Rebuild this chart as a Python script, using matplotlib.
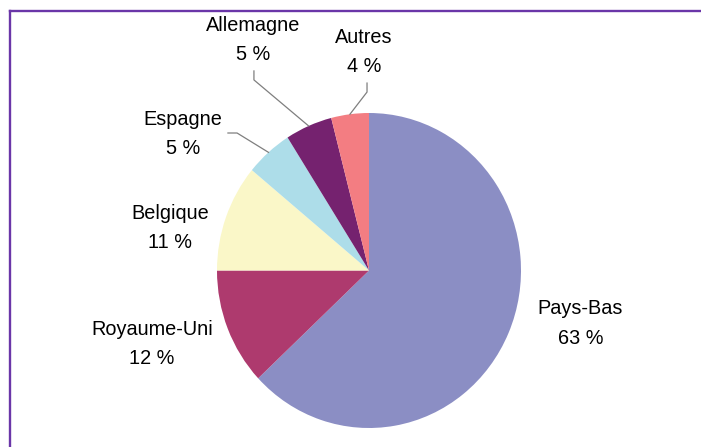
import numpy as np
import matplotlib
matplotlib.use('Agg')
import matplotlib.pyplot as plt
from matplotlib.lines import Line2D

plt.rcParams['font.family'] = ['Liberation Sans', 'DejaVu Sans']

# Share by country (%)
countries = ['Pays-Bas', 'Royaume-Uni', 'Belgique', 'Espagne', 'Allemagne', 'Autres']
shares = [63, 12, 11, 5, 5, 4]
colors = ['#8B8EC4', '#AE3A6E', '#FAF7C8', '#ADDDE9', '#75226F', '#F37D82']

# label centres (data units, pie radius = 1)
label_pos = {
    'Pays-Bas': (1.39, -0.335),
    'Royaume-Uni': (-1.428, -0.467),
    'Belgique': (-1.309, 0.27),
    'Espagne': (-1.224, 0.867),
    'Allemagne': (-0.763, 1.463),
    'Autres': (-0.033, 1.387),
}
# leader lines: elbow point and end near text
leaders = {
    'Espagne': [(-0.868, 0.873), (-0.928, 0.873)],
    'Allemagne': [(-0.757, 1.21), (-0.757, 1.267)],
    'Autres': [(-0.013, 1.133), (-0.013, 1.19)],
}

fig = plt.figure(figsize=(7.01, 4.47), dpi=100)
ax = fig.add_axes([0, 0, 1, 1])

wedges, _ = ax.pie(shares, colors=colors, startangle=90, counterclock=False,
                   radius=1, wedgeprops=dict(linewidth=0))
ax.set_aspect('auto')
ax.set_xlim(-369 / 152, (701 - 369) / 152)
ax.set_ylim((270.5 - 447) / 157.5, 270.5 / 157.5)
ax.axis('off')

for w, name, val in zip(wedges, countries, shares):
    x, y = label_pos[name]
    ax.text(x, y, f'{name}\n{val} %', ha='center', va='center',
            fontsize=14.3, linespacing=1.72, color='#000000')
    if name in leaders:
        ang = np.deg2rad((w.theta1 + w.theta2) / 2)
        pts = [(np.cos(ang), np.sin(ang))] + leaders[name]
        xs, ys = zip(*pts)
        ax.plot(xs, ys, color='#7F7F7F', linewidth=0.9)

# purple frame (top and left edges visible)
fig.add_artist(Line2D([10 / 701, 10 / 701], [0, 1 - 11 / 447], transform=fig.transFigure,
                      color='#6A36A8', linewidth=1.7))
fig.add_artist(Line2D([10 / 701, 1], [1 - 11 / 447, 1 - 11 / 447], transform=fig.transFigure,
                      color='#6A36A8', linewidth=1.7))

fig.savefig('out.png', dpi=100)
